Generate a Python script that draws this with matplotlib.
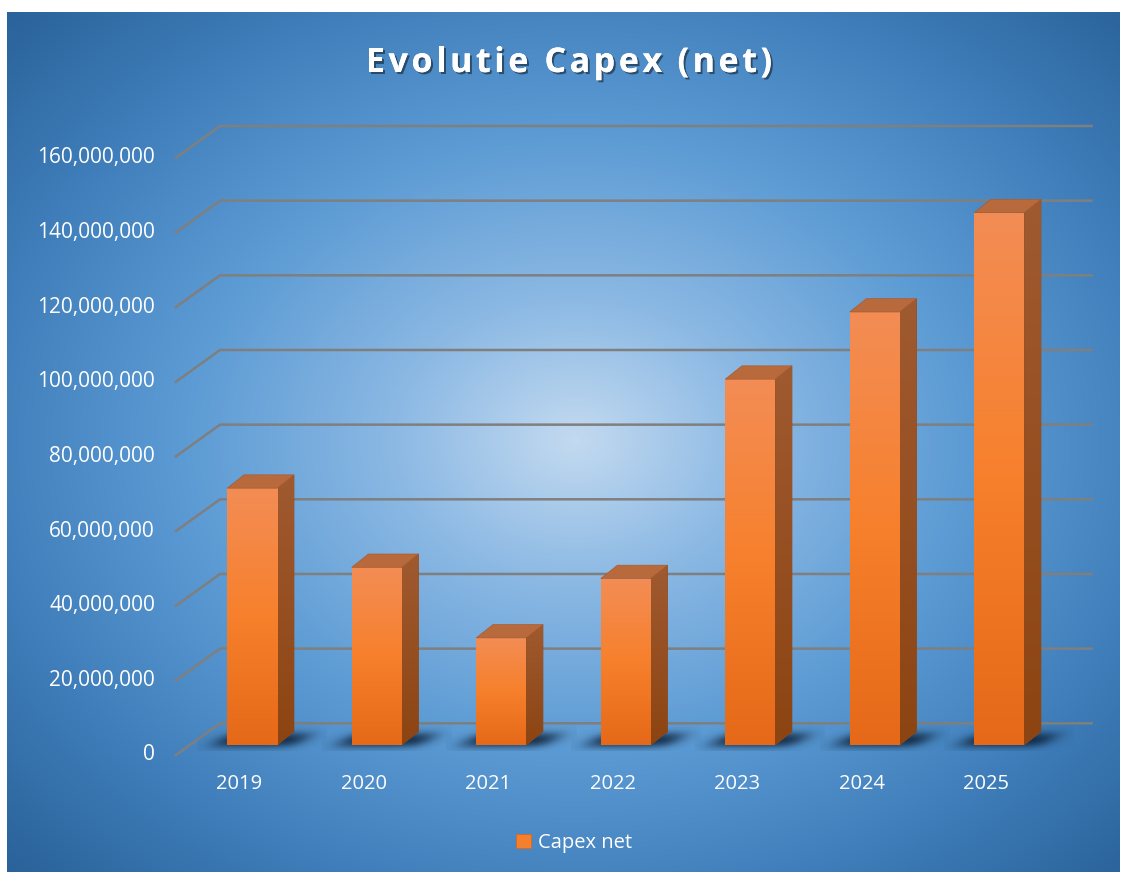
import matplotlib
matplotlib.use('Agg')
import matplotlib.pyplot as plt
import matplotlib.patheffects as pe
from matplotlib.patches import Polygon
from matplotlib.colors import LinearSegmentedColormap
import numpy as np

# data
years = ['2019', '2020', '2021', '2022', '2023', '2024', '2025']
capex = [68.8e6, 47.6e6, 28.7e6, 44.6e6, 98.0e6, 116.0e6, 142.6e6]
y_ticks = np.arange(0, 160e6 + 1, 20e6)
tick_labels = [f'{int(v):,}' for v in y_ticks]
title = 'Evolutie Capex (net)'

W, H = 1126, 876
FONT = 'Open Sans'
fig = plt.figure(figsize=(W / 100, H / 100), dpi=100)
fig.patch.set_facecolor('white')

# radial blue background
bw_px, bh_px = 1113, 860
bg = fig.add_axes([7 / W, 4 / H, bw_px / W, bh_px / H])
gx, gy = np.meshgrid(np.arange(bw_px), np.arange(bh_px))
r = np.sqrt(((gx - 568) / 600.0) ** 2 + ((gy - 428) / 470.0) ** 2)
stops = [0.0, 0.3, 0.65, 1.0, 1.35]
reds = [195, 140, 92, 62, 40]
greens = [218, 185, 155, 125, 95]
blues = [240, 228, 212, 185, 150]
img = np.dstack([np.interp(r, stops, c) for c in (reds, greens, blues)]) / 255.0
bg.imshow(img, aspect='auto')
bg.axis('off')

# plot area (front plane of the bars)
ax = fig.add_axes([190 / W, 131 / H, 871.5 / W, 597.3 / H])
ax.set_facecolor('none')
ax.set_xlim(-0.5, 6.5)
ax.set_ylim(0, 160e6)
ax.axis('off')

def px(n):
    return n * 7 / 871.5

def py(n):
    return n * 160e6 / 597.3

# gridlines on back wall + diagonal on side floor
for v, lab in zip(y_ticks, tick_labels):
    ax.plot([-0.5 - px(14), -0.5 + px(30), 6.5 + px(30)],
            [v - py(10), v + py(21.7), v + py(21.7)],
            color='#7f7f7f', lw=1.8, clip_on=False, zorder=1)
    ax.text(-0.5 - px(35), v - py(10), lab, ha='right', va='center',
            color='white', fontsize=15, family=FONT, clip_on=False)

x = np.arange(len(years))
bw = 50 / 124.5
dx, dy = px(16.7), py(13.3)

front_cm = LinearSegmentedColormap.from_list('front', ['#f38d55', '#f7802c', '#e56918'])
side_cm = LinearSegmentedColormap.from_list('side', ['#a05a30', '#8c4412'])
grad = np.linspace(0, 1, 256).reshape(-1, 1)

# skewed soft shadows under the bars
su = np.linspace(-30, 100, 150)
sw = np.linspace(-6, 24, 45)
SU, SW = np.meshgrid(su, sw)
sig = lambda z: 1 / (1 + np.exp(-z))
U2 = SU - 1.3 * (SW - 6)
alpha = 0.88 * sig((42 - np.abs(U2 - 36)) / 6.0) * sig((6.5 - np.abs(SW - 5)) / 2.3)
shadow = np.zeros(SU.shape + (4,))
shadow[..., 0] = 10 / 255
shadow[..., 1] = 28 / 255
shadow[..., 2] = 50 / 255
shadow[..., 3] = alpha
for xi in x:
    x0 = xi - bw / 2
    ax.imshow(shadow, extent=[x0 + px(su[0]), x0 + px(su[-1]), py(sw[0]), py(sw[-1])],
              origin='lower', aspect='auto', zorder=3, clip_on=False)

bars = ax.bar(x, capex, width=bw, color='#f47f2c', edgecolor='#d06a28',
              linewidth=0.6, zorder=5, label='Capex net')

for xi, v, rect in zip(x, capex, bars):
    x0, x1 = xi - bw / 2, xi + bw / 2
    im = ax.imshow(grad, extent=[x0, x1, 0, v], origin='upper', aspect='auto',
                   cmap=front_cm, zorder=5.5)
    im.set_clip_path(rect)
    side = Polygon([(x1, 0), (x1 + dx, dy), (x1 + dx, v + dy), (x1, v)],
                   closed=True, facecolor='#974f22', edgecolor='#8a4518',
                   linewidth=0.5, zorder=5)
    ax.add_patch(side)
    im2 = ax.imshow(grad, extent=[x1, x1 + dx, 0, v + dy], origin='upper',
                    aspect='auto', cmap=side_cm, zorder=5.2)
    im2.set_clip_path(side)
    top = Polygon([(x0, v), (x1, v), (x1 + dx, v + dy), (x0 + dx, v + dy)],
                  closed=True, facecolor='#b96a3c', edgecolor='#a85c30',
                  linewidth=0.5, zorder=6)
    ax.add_patch(top)
    ax.text(xi - px(13), -py(39), years[xi], ha='center', va='center',
            color='white', fontsize=14.5, family=FONT, clip_on=False)

ax.set_xlim(-0.5, 6.5)
ax.set_ylim(0, 160e6)

leg = ax.legend(loc='center', bbox_to_anchor=(574 / W, 1 - 843 / H),
                bbox_transform=fig.transFigure, frameon=False,
                handlelength=0.75, handleheight=0.75, handletextpad=0.3,
                prop={'family': FONT, 'size': 14.5})
for t in leg.get_texts():
    t.set_color('white')

# title with letter spacing
tkw = dict(fontsize=24.5, weight='bold', family=FONT)
renderer = fig.canvas.get_renderer()
tmp = fig.text(0, 0, '', **tkw)

def text_w(s):
    tmp.set_text(s)
    return tmp.get_window_extent(renderer).width

bar_w = text_w('|')
adv = [0.0] + [text_w(title[:i] + '|') - bar_w for i in range(1, len(title))]
spacing = 3.6
total = text_w(title) + spacing * (len(title) - 1)
tmp.remove()
start = 569 - total / 2
shadow_fx = [pe.withSimplePatchShadow(offset=(1.5, -1.5), shadow_rgbFace='black', alpha=0.45),
             pe.Normal()]
for i, ch in enumerate(title):
    if ch == ' ':
        continue
    fig.text((start + adv[i] + i * spacing) / W, 1 - 72 / H, ch, ha='left',
             va='baseline', color='white', path_effects=shadow_fx, **tkw)

plt.savefig('out.png', dpi=100)
